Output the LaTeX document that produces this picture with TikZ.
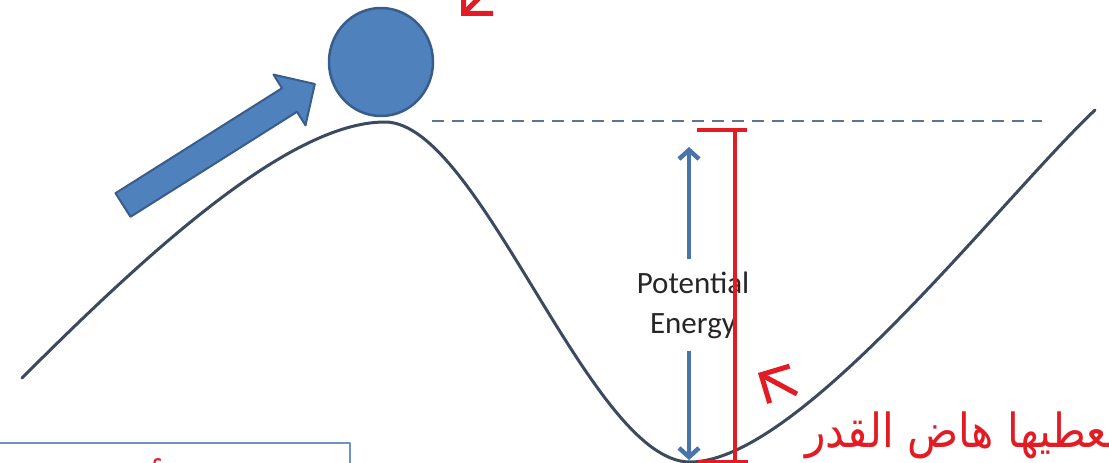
\documentclass[tikz,border=0pt]{standalone}
\usepackage{fontspec}
\newfontfamily\labelfont{Carlito}
\newfontfamily\arabicfont[Script=Arabic]{DejaVu Sans}
\TeXXeTstate=1
\usepackage{xcolor}
\definecolor{ballblue}{RGB}{79,129,189}
\definecolor{balledge}{RGB}{56,93,138}
\definecolor{hillgray}{RGB}{59,74,94}
\definecolor{dashgray}{RGB}{91,118,148}
\definecolor{markred}{RGB}{227,27,35}
\usetikzlibrary{arrows.meta,positioning,shapes.geometric}

\begin{document}
\begin{tikzpicture}[x=1pt, y=-1pt, line join=round,
    hill/.style={draw=hillgray, line width=3pt, line cap=round},
    level/.style={draw=dashgray, line width=2pt, dash pattern=on 12pt off 8pt},
    push/.style={fill=ballblue, draw=balledge, line width=2pt},
    ball/.style={ellipse, fill=ballblue, draw=balledge, line width=2.5pt, minimum width=104pt, minimum height=108pt, inner sep=0pt},
    pelabel/.style={align=center, text=black!85, inner sep=12pt, font=\labelfont\fontsize{31}{40}\selectfont},
    pearrow/.style={draw=ballblue!90!black, line width=4.5pt, -{Straight Barb[length=9pt, width=20pt]}},
    redbar/.style={draw=markred, line width=4pt},
    redarrow/.style={draw=markred, line width=5pt, -{Straight Barb[length=21pt, width=42pt]}},
    note/.style={text=markred, inner sep=0pt, font=\arabicfont\fontsize{47}{56}\selectfont},
    textbox/.style={draw=ballblue!85, line width=2pt}]

    \useasboundingbox (0,0) rectangle (1109,463);

    % Hill and level line
    \draw[hill] (22,378) .. controls (150,250) and (290,122) .. (385,122)
                .. controls (480,122) and (590,462) .. (690,462)
                .. controls (800,462) and (1000,200) .. (1095,110);
    \draw[level] (432,121) -- (1042,121);

    % Ball and push
    \node[ball] (ball) at (381,62) {};
    \draw[push] (115.5,193.2) -- (282,88.2) -- (273.5,74.6) -- (314.8,84)
                -- (305.5,125.4) -- (297,111.8) -- (130.5,216.8) -- cycle;

    % Potential energy
    \node[pelabel] (pe) at (693,305) {Potential\\Energy};
    \coordinate (petop) at (689,147);
    \coordinate (pebot) at (689,460);
    \draw[pearrow] (pe.north -| petop) -- (petop);
    \draw[pearrow] (pe.south -| pebot) -- (pebot);

    % Red marks
    \coordinate (bartop) at (735,130);
    \coordinate (barbot) at (735,462);
    \draw[redbar] (bartop) -- (barbot);
    \draw[redbar] ([xshift=-38pt]bartop) -- ([xshift=12pt]bartop);
    \draw[redbar] ([xshift=-37pt]barbot) -- ([xshift=13pt]barbot);
    \coordinate (toptail) at (498,-21);
    \coordinate (toptip) at (461,16);
    \draw[redarrow] (toptail) -- (toptip);
    \coordinate (sidetail) at (797,394);
    \coordinate (sidetip) at (758,373);
    \draw[redarrow] (sidetail) -- (sidetip);
    \node[note, anchor=base west] (note) at (805,447) {\scalebox{0.9}[1]{\beginR يعطيها هاض القدر\endR}};

    % Box below
    \draw[textbox] (-5,443) rectangle (350,490);
    \node[note, anchor=base] (cut) at (158,505) {\beginR أ\endR};
\end{tikzpicture}
\end{document}
